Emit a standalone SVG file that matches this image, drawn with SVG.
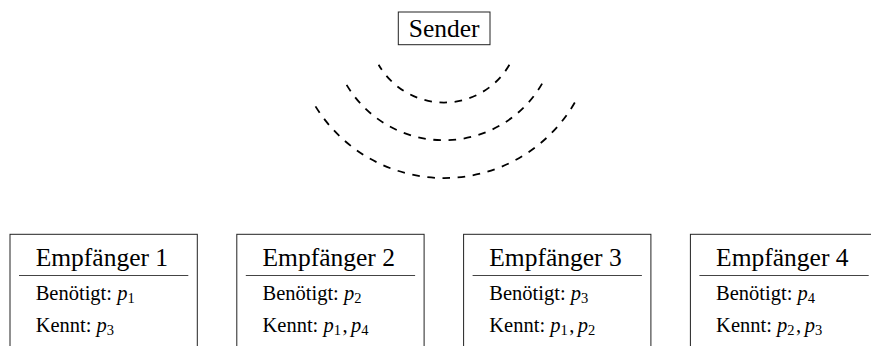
<svg xmlns="http://www.w3.org/2000/svg" width="871" height="346" viewBox="0 0 871 346">
<style>
  .box { fill: none; stroke: #222; stroke-width: 1; }
  .div { stroke: #444; stroke-width: 1.2; }
  .title { font-family: "Liberation Serif", "Times New Roman", serif; font-size: 25.5px; fill: #000; }
  .body { font-family: "Liberation Serif", "Times New Roman", serif; font-size: 20.5px; fill: #000; }
  .m { font-style: italic; }
  .sub { font-size: 14.5px; }
  .wave { fill: none; stroke: #000; stroke-width: 1.8; stroke-dasharray: 7.6 7.6; }
</style>
<rect width="871" height="346" fill="#fff"/>
<g id="sender">
  <rect class="box" x="398.3" y="12" width="91.7" height="32.7"/>
  <text class="title" x="444.2" y="37" text-anchor="middle">Sender</text>
</g>
<g id="connectors">
  <path class="wave" d="M 509.4 64.75 A 75.5 75.5 0 0 1 378.6 64.75"/>
  <path class="wave" d="M 542.1 83.65 A 113.3 113.3 0 0 1 345.9 83.65"/>
  <path class="wave" d="M 574.8 102.5 A 151 151 0 0 1 313.2 102.5"/>
</g>
<g id="empfaenger1">
  <rect class="box" x="10" y="234.3" width="187.3" height="130"/>
  <line class="div" x1="19" y1="275.5" x2="188.3" y2="275.5"/>
  <text class="title" x="35.7" y="266.3">Empfänger 1</text>
  <text class="body" x="35.7" y="299.5">Benötigt: <tspan class="m">p</tspan><tspan class="sub" dy="3">1</tspan></text>
  <text class="body" x="35.7" y="332">Kennt: <tspan class="m">p</tspan><tspan class="sub" dy="3">3</tspan></text>
</g>
<g id="empfaenger2">
  <rect class="box" x="236.8" y="234.3" width="187.3" height="130"/>
  <line class="div" x1="245.8" y1="275.5" x2="415.1" y2="275.5"/>
  <text class="title" x="262.5" y="266.3">Empfänger 2</text>
  <text class="body" x="262.5" y="299.5">Benötigt: <tspan class="m">p</tspan><tspan class="sub" dy="3">2</tspan></text>
  <text class="body" x="262.5" y="332">Kennt: <tspan class="m">p</tspan><tspan class="sub" dy="3">1</tspan><tspan dx="1.5" dy="-3">,</tspan><tspan class="m" dx="3.5">p</tspan><tspan class="sub" dy="3">4</tspan></text>
</g>
<g id="empfaenger3">
  <rect class="box" x="463.6" y="234.3" width="187.3" height="130"/>
  <line class="div" x1="472.6" y1="275.5" x2="641.9" y2="275.5"/>
  <text class="title" x="489.3" y="266.3">Empfänger 3</text>
  <text class="body" x="489.3" y="299.5">Benötigt: <tspan class="m">p</tspan><tspan class="sub" dy="3">3</tspan></text>
  <text class="body" x="489.3" y="332">Kennt: <tspan class="m">p</tspan><tspan class="sub" dy="3">1</tspan><tspan dx="1.5" dy="-3">,</tspan><tspan class="m" dx="3.5">p</tspan><tspan class="sub" dy="3">2</tspan></text>
</g>
<g id="empfaenger4">
  <rect class="box" x="690.4" y="234.3" width="187.3" height="130"/>
  <line class="div" x1="699.4" y1="275.5" x2="868.7" y2="275.5"/>
  <text class="title" x="716.1" y="266.3">Empfänger 4</text>
  <text class="body" x="716.1" y="299.5">Benötigt: <tspan class="m">p</tspan><tspan class="sub" dy="3">4</tspan></text>
  <text class="body" x="716.1" y="332">Kennt: <tspan class="m">p</tspan><tspan class="sub" dy="3">2</tspan><tspan dx="1.5" dy="-3">,</tspan><tspan class="m" dx="3.5">p</tspan><tspan class="sub" dy="3">3</tspan></text>
</g>
</svg>
